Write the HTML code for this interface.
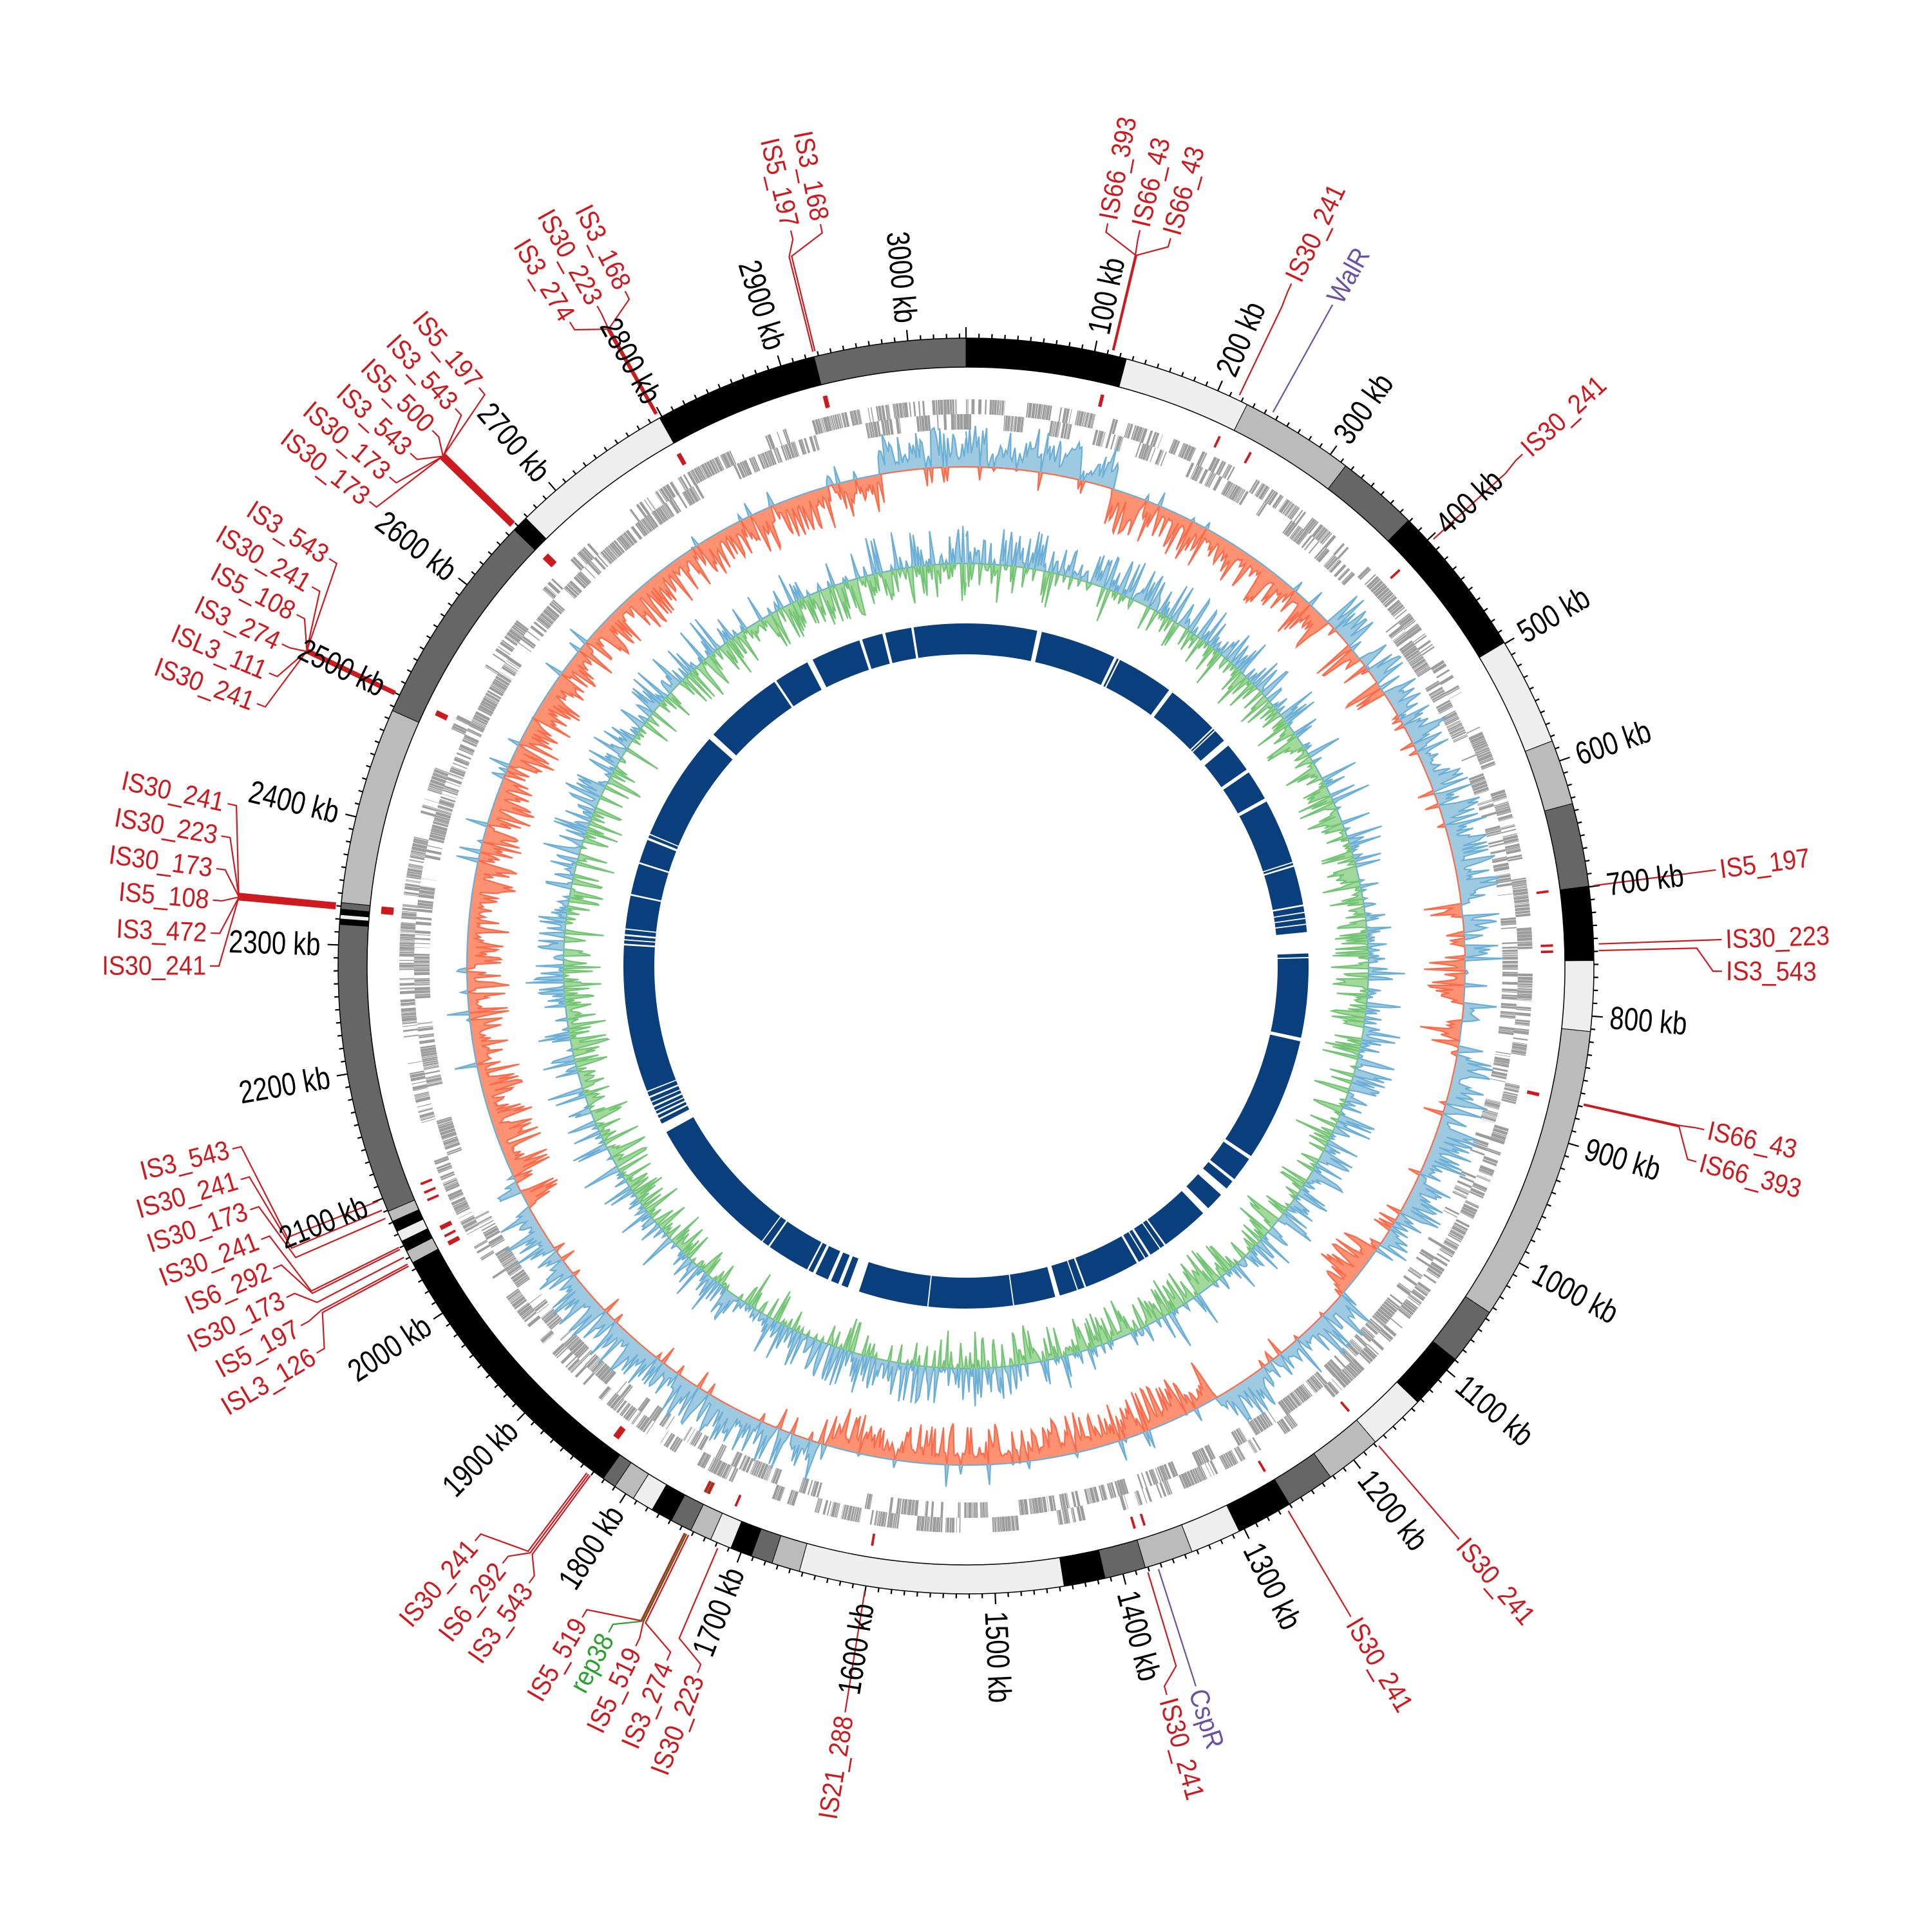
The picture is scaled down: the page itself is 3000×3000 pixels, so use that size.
<!DOCTYPE html>
<html><head><meta charset="utf-8">
<style>
html,body{margin:0;padding:0;background:#fff;}
svg{display:block;}
.kb{font-family:"Liberation Sans",sans-serif;font-size:50px;fill:#000;dominant-baseline:central;}
.is{font-family:"Liberation Sans",sans-serif;font-size:42px;fill:#cc1a1f;dominant-baseline:central;}
.pu{fill:#6a51a3;}
.gr{fill:#2ca02c;}
</style></head>
<body>
<svg id="s" xmlns="http://www.w3.org/2000/svg" width="3000" height="3000" viewBox="0 0 3000 3000">
<rect width="3000" height="3000" fill="#fff"/>
<g id="dyn"></g>
<g id="kbl">
<text class="kb" text-anchor="start" transform="rotate(-78.18 1500 1500) translate(2503 1500) scale(0.8 1)">100 kb</text>
<text class="kb" text-anchor="start" transform="rotate(-66.35 1500 1500) translate(2503 1500) scale(0.8 1)">200 kb</text>
<text class="kb" text-anchor="start" transform="rotate(-54.53 1500 1500) translate(2503 1500) scale(0.8 1)">300 kb</text>
<text class="kb" text-anchor="start" transform="rotate(-42.71 1500 1500) translate(2503 1500) scale(0.8 1)">400 kb</text>
<text class="kb" text-anchor="start" transform="rotate(-30.89 1500 1500) translate(2503 1500) scale(0.8 1)">500 kb</text>
<text class="kb" text-anchor="start" transform="rotate(-19.06 1500 1500) translate(2503 1500) scale(0.8 1)">600 kb</text>
<text class="kb" text-anchor="start" transform="rotate(-7.24 1500 1500) translate(2503 1500) scale(0.8 1)">700 kb</text>
<text class="kb" text-anchor="start" transform="rotate(4.58 1500 1500) translate(2503 1500) scale(0.8 1)">800 kb</text>
<text class="kb" text-anchor="start" transform="rotate(16.40 1500 1500) translate(2503 1500) scale(0.8 1)">900 kb</text>
<text class="kb" text-anchor="start" transform="rotate(28.23 1500 1500) translate(2503 1500) scale(0.8 1)">1000 kb</text>
<text class="kb" text-anchor="start" transform="rotate(40.05 1500 1500) translate(2503 1500) scale(0.8 1)">1100 kb</text>
<text class="kb" text-anchor="start" transform="rotate(51.87 1500 1500) translate(2503 1500) scale(0.8 1)">1200 kb</text>
<text class="kb" text-anchor="start" transform="rotate(63.69 1500 1500) translate(2503 1500) scale(0.8 1)">1300 kb</text>
<text class="kb" text-anchor="start" transform="rotate(75.52 1500 1500) translate(2503 1500) scale(0.8 1)">1400 kb</text>
<text class="kb" text-anchor="start" transform="rotate(87.34 1500 1500) translate(2503 1500) scale(0.8 1)">1500 kb</text>
<text class="kb" text-anchor="end" transform="rotate(279.16 1500 1500) translate(497 1500) scale(0.8 1)">1600 kb</text>
<text class="kb" text-anchor="end" transform="rotate(290.99 1500 1500) translate(497 1500) scale(0.8 1)">1700 kb</text>
<text class="kb" text-anchor="end" transform="rotate(302.81 1500 1500) translate(497 1500) scale(0.8 1)">1800 kb</text>
<text class="kb" text-anchor="end" transform="rotate(314.63 1500 1500) translate(497 1500) scale(0.8 1)">1900 kb</text>
<text class="kb" text-anchor="end" transform="rotate(326.45 1500 1500) translate(497 1500) scale(0.8 1)">2000 kb</text>
<text class="kb" text-anchor="end" transform="rotate(338.28 1500 1500) translate(497 1500) scale(0.8 1)">2100 kb</text>
<text class="kb" text-anchor="end" transform="rotate(350.10 1500 1500) translate(497 1500) scale(0.8 1)">2200 kb</text>
<text class="kb" text-anchor="end" transform="rotate(1.92 1500 1500) translate(497 1500) scale(0.8 1)">2300 kb</text>
<text class="kb" text-anchor="end" transform="rotate(13.74 1500 1500) translate(497 1500) scale(0.8 1)">2400 kb</text>
<text class="kb" text-anchor="end" transform="rotate(25.57 1500 1500) translate(497 1500) scale(0.8 1)">2500 kb</text>
<text class="kb" text-anchor="end" transform="rotate(37.39 1500 1500) translate(497 1500) scale(0.8 1)">2600 kb</text>
<text class="kb" text-anchor="end" transform="rotate(49.21 1500 1500) translate(497 1500) scale(0.8 1)">2700 kb</text>
<text class="kb" text-anchor="end" transform="rotate(61.03 1500 1500) translate(497 1500) scale(0.8 1)">2800 kb</text>
<text class="kb" text-anchor="end" transform="rotate(72.86 1500 1500) translate(497 1500) scale(0.8 1)">2900 kb</text>
<text class="kb" text-anchor="end" transform="rotate(84.68 1500 1500) translate(497 1500) scale(0.8 1)">3000 kb</text>
</g>
<g id="isl">
<text class="is" text-anchor="start" transform="rotate(-79.2 1500 1500) translate(2680 1500) scale(0.9 1)">IS66_393</text>
<text class="is" text-anchor="start" transform="rotate(-76.7 1500 1500) translate(2680 1500) scale(0.9 1)">IS66_43</text>
<text class="is" text-anchor="start" transform="rotate(-74.3 1500 1500) translate(2680 1500) scale(0.9 1)">IS66_43</text>
<text class="is" text-anchor="start" transform="rotate(-64.5 1500 1500) translate(2680 1500) scale(0.9 1)">IS30_241</text>
<text class="is pu" text-anchor="start" transform="rotate(-61 1500 1500) translate(2680 1500) scale(0.9 1)">WalR</text>
<text class="is" text-anchor="start" transform="rotate(-42.6 1500 1500) translate(2680 1500) scale(0.9 1)">IS30_241</text>
<text class="is" text-anchor="start" transform="rotate(-7.3 1500 1500) translate(2680 1500) scale(0.9 1)">IS5_197</text>
<text class="is" text-anchor="start" transform="rotate(-2 1500 1500) translate(2680 1500) scale(0.9 1)">IS30_223</text>
<text class="is" text-anchor="start" transform="rotate(0.4 1500 1500) translate(2680 1500) scale(0.9 1)">IS3_543</text>
<text class="is" text-anchor="start" transform="rotate(12.5 1500 1500) translate(2680 1500) scale(0.9 1)">IS66_43</text>
<text class="is" text-anchor="start" transform="rotate(15 1500 1500) translate(2680 1500) scale(0.9 1)">IS66_393</text>
<text class="is" text-anchor="start" transform="rotate(49.3 1500 1500) translate(2680 1500) scale(0.9 1)">IS30_241</text>
<text class="is" text-anchor="start" transform="rotate(59.4 1500 1500) translate(2680 1500) scale(0.9 1)">IS30_241</text>
<text class="is pu" text-anchor="start" transform="rotate(72.3 1500 1500) translate(2680 1500) scale(0.9 1)">CspR</text>
<text class="is" text-anchor="start" transform="rotate(74.6 1500 1500) translate(2680 1500) scale(0.9 1)">IS30_241</text>
<text class="is" text-anchor="end" transform="rotate(279.2 1500 1500) translate(320 1500) scale(0.9 1)">IS21_288</text>
<text class="is" text-anchor="end" transform="rotate(290.8 1500 1500) translate(320 1500) scale(0.9 1)">IS30_223</text>
<text class="is" text-anchor="end" transform="rotate(293.3 1500 1500) translate(320 1500) scale(0.9 1)">IS3_274</text>
<text class="is" text-anchor="end" transform="rotate(295.9 1500 1500) translate(320 1500) scale(0.9 1)">IS5_519</text>
<text class="is gr" text-anchor="end" transform="rotate(298.2 1500 1500) translate(320 1500) scale(0.9 1)">rep38</text>
<text class="is" text-anchor="end" transform="rotate(300.5 1500 1500) translate(320 1500) scale(0.9 1)">IS5_519</text>
<text class="is" text-anchor="end" transform="rotate(305.3 1500 1500) translate(320 1500) scale(0.9 1)">IS3_543</text>
<text class="is" text-anchor="end" transform="rotate(307.8 1500 1500) translate(320 1500) scale(0.9 1)">IS6_292</text>
<text class="is" text-anchor="end" transform="rotate(310.5 1500 1500) translate(320 1500) scale(0.9 1)">IS30_241</text>
<text class="is" text-anchor="end" transform="rotate(329.2 1500 1500) translate(320 1500) scale(0.9 1)">ISL3_126</text>
<text class="is" text-anchor="end" transform="rotate(331.6 1500 1500) translate(320 1500) scale(0.9 1)">IS5_197</text>
<text class="is" text-anchor="end" transform="rotate(334 1500 1500) translate(320 1500) scale(0.9 1)">IS30_173</text>
<text class="is" text-anchor="end" transform="rotate(336.4 1500 1500) translate(320 1500) scale(0.9 1)">IS6_292</text>
<text class="is" text-anchor="end" transform="rotate(338.8 1500 1500) translate(320 1500) scale(0.9 1)">IS30_241</text>
<text class="is" text-anchor="end" transform="rotate(341.2 1500 1500) translate(320 1500) scale(0.9 1)">IS30_173</text>
<text class="is" text-anchor="end" transform="rotate(343.6 1500 1500) translate(320 1500) scale(0.9 1)">IS30_241</text>
<text class="is" text-anchor="end" transform="rotate(346 1500 1500) translate(320 1500) scale(0.9 1)">IS3_543</text>
<text class="is" text-anchor="end" transform="rotate(0 1500 1500) translate(320 1500) scale(0.9 1)">IS30_241</text>
<text class="is" text-anchor="end" transform="rotate(2.5 1500 1500) translate(320 1500) scale(0.9 1)">IS3_472</text>
<text class="is" text-anchor="end" transform="rotate(5 1500 1500) translate(320 1500) scale(0.9 1)">IS5_108</text>
<text class="is" text-anchor="end" transform="rotate(7.4 1500 1500) translate(320 1500) scale(0.9 1)">IS30_173</text>
<text class="is" text-anchor="end" transform="rotate(9.9 1500 1500) translate(320 1500) scale(0.9 1)">IS30_223</text>
<text class="is" text-anchor="end" transform="rotate(12.4 1500 1500) translate(320 1500) scale(0.9 1)">IS30_241</text>
<text class="is" text-anchor="end" transform="rotate(20.3 1500 1500) translate(320 1500) scale(0.9 1)">IS30_241</text>
<text class="is" text-anchor="end" transform="rotate(22.8 1500 1500) translate(320 1500) scale(0.9 1)">ISL3_111</text>
<text class="is" text-anchor="end" transform="rotate(25.2 1500 1500) translate(320 1500) scale(0.9 1)">IS3_274</text>
<text class="is" text-anchor="end" transform="rotate(27.7 1500 1500) translate(320 1500) scale(0.9 1)">IS5_108</text>
<text class="is" text-anchor="end" transform="rotate(30.1 1500 1500) translate(320 1500) scale(0.9 1)">IS30_241</text>
<text class="is" text-anchor="end" transform="rotate(32.6 1500 1500) translate(320 1500) scale(0.9 1)">IS3_543</text>
<text class="is" text-anchor="end" transform="rotate(37.9 1500 1500) translate(320 1500) scale(0.9 1)">IS30_173</text>
<text class="is" text-anchor="end" transform="rotate(40.3 1500 1500) translate(320 1500) scale(0.9 1)">IS30_173</text>
<text class="is" text-anchor="end" transform="rotate(42.7 1500 1500) translate(320 1500) scale(0.9 1)">IS3_543</text>
<text class="is" text-anchor="end" transform="rotate(45.1 1500 1500) translate(320 1500) scale(0.9 1)">IS5_500</text>
<text class="is" text-anchor="end" transform="rotate(47.5 1500 1500) translate(320 1500) scale(0.9 1)">IS3_543</text>
<text class="is" text-anchor="end" transform="rotate(49.9 1500 1500) translate(320 1500) scale(0.9 1)">IS5_197</text>
<text class="is" text-anchor="end" transform="rotate(58.4 1500 1500) translate(320 1500) scale(0.9 1)">IS3_274</text>
<text class="is" text-anchor="end" transform="rotate(60.8 1500 1500) translate(320 1500) scale(0.9 1)">IS30_223</text>
<text class="is" text-anchor="end" transform="rotate(63.2 1500 1500) translate(320 1500) scale(0.9 1)">IS3_168</text>
<text class="is" text-anchor="end" transform="rotate(76.6 1500 1500) translate(320 1500) scale(0.9 1)">IS5_197</text>
<text class="is" text-anchor="end" transform="rotate(78.9 1500 1500) translate(320 1500) scale(0.9 1)">IS3_168</text>
</g>
</svg>
<script>
(function(){
var C=1500,G=3045;
function P(a,r){var t=(a-90)*Math.PI/180;return [(C+r*Math.cos(t)).toFixed(1),(C+r*Math.sin(t)).toFixed(1)];}
function arc(a1,a2,r1,r2){var p1=P(a1,r2),p2=P(a2,r2),p3=P(a2,r1),p4=P(a1,r1);var lg=(a2-a1)>180?1:0;
return 'M'+p1[0]+','+p1[1]+'A'+r2+','+r2+' 0 '+lg+' 1 '+p2[0]+','+p2[1]+'L'+p3[0]+','+p3[1]+'A'+r1+','+r1+' 0 '+lg+' 0 '+p4[0]+','+p4[1]+'Z';}
var seed=12345;function rnd(){seed=(seed*16807)%2147483647;return seed/2147483647;}
var o=[];
var K='#000',D='#666',L='#bbb',W='#eee';
var segs=[[0,14.8,K],[14.8,26.6,W],[26.6,37.2,L],[37.2,44.8,D],[44.8,59,K],[59,69,W],[69,75,L],[75,82.7,D],[82.7,89.5,K],[89.5,96,W],[96,123.5,L],[123.5,128.8,D],[128.8,134,K],[134,139.3,W],[139.3,144.5,L],[144.5,149,D],[149,154.2,K],[154.2,158.9,W],[158.9,163.4,L],[163.4,167.2,D],[167.2,171,K],[171,195.4,W],[195.4,198,L],[198,200,D],[200,202,K],[202,204,W],[204,206,L],[206,208,D],[208,210,K],[210,212,W],[212,214,L],[214,215.3,D],[215.3,241.8,K],[241.8,243,L],[243,244,K],[244,245,W],[245,246,K],[246,247,L],[247,273.8,D],[273.8,274.3,K],[274.3,274.7,W],[274.7,275.2,K],[275.2,275.8,D],[275.8,294,L],[294,314,D],[314,315.5,K],[315.5,330.8,W],[330.8,346,K],[346,360,D]];
segs.forEach(function(s){o.push('<path d="'+arc(s[0],s[1],930,975)+'" fill="'+s[2]+'" stroke="#000" stroke-width="1"/>');});
o.push('<circle cx="1500" cy="1500" r="975" fill="none" stroke="#000" stroke-width="1.5"/>');
o.push('<circle cx="1500" cy="1500" r="930" fill="none" stroke="#000" stroke-width="1.5"/>');
var tk='';
for(var kb=0;kb<G;kb+=10){var a=kb*360/G;var maj=(kb%100===0);var p1=P(a,975),p2=P(a,maj?992:982);tk+='M'+p1[0]+','+p1[1]+'L'+p2[0]+','+p2[1];}
o.push('<path d="'+tk+'" stroke="#000" stroke-width="2.2" fill="none"/>');
// genes - denser
var gp='';
function fillLane(a0,a1,rr,dens){var a=a0;while(a<a1){var len=0.04+rnd()*0.3;var b=Math.min(a1,a+len);
  if(rnd()<dens) gp+=arc(a,b,rr[0],rr[1]);
  a=b+(rnd()<0.85?0.02+rnd()*0.04:0.1+rnd()*0.3);}}
var a=0;
while(a<360){var run=0.3+rnd()*2.5;var end=Math.min(360,a+run);var lane=rnd()<0.5?0:1;
 var L1=lane===0?[857,880]:[833,857], L2=lane===0?[833,857]:[857,880];
 fillLane(a,end,L1,0.95);
 if(rnd()<0.35) fillLane(a,end,L2,0.5);
 a=end+(rnd()<0.7?0.02:0.1+rnd()*0.3);
}
o.push('<path d="'+gp+'" fill="#9c9c9c"/>');
var skewR=[[0,17,1],[17,45,-1],[45,57,0],[57,78,1],[78,100,0],[100,124,1],[124,131,-1],[131,150,1],[150,197,-1],[197,240,1],[240,246,0],[246,350,-1],[350,360,1]];
function sgn(a){for(var i=0;i<skewR.length;i++){var s=skewR[i];if(a>=s[0]&&a<s[1])return s[2];}return 1;}
function track(r0,step,fn,colP,colN,lineP,lineN){
 var pos=[],neg=[];
 for(var x=0;x<=360;x+=step){var v=fn(x);pos.push(Math.max(v,0));neg.push(Math.min(v,0));}
 function poly(arr){var d='',n=arr.length;for(var i=0;i<n;i++){var p=P(i*step,r0+arr[i]);d+=(i?'L':'M')+p[0]+','+p[1];}
  for(var i=n-1;i>=0;i--){var p=P(i*step,r0);d+='L'+p[0]+','+p[1];}return d+'Z';}
 function line(arr){var d='',n=arr.length;for(var i=0;i<n;i++){var p=P(i*step,r0+arr[i]);d+=(i?'L':'M')+p[0]+','+p[1];}return d;}
 o.push('<path d="'+poly(neg)+'" fill="'+colN+'"/>');
 o.push('<path d="'+poly(pos)+'" fill="'+colP+'"/>');
 o.push('<path d="'+line(neg)+'" fill="none" stroke="'+lineN+'" stroke-width="2.2"/>');
 o.push('<path d="'+line(pos)+'" fill="none" stroke="'+lineP+'" stroke-width="2.2"/>');
}
var mixS=1,mixNext=0;
track(775,0.2,function(x){var s=sgn(x);if(s===0){if(x>=mixNext){mixS=rnd()<0.5?1:-1;mixNext=x+0.5+rnd()*1.5;}s=mixS;}
 var v=s*(12+Math.pow(rnd(),2)*55);if(rnd()<0.07)v=-s*(rnd()*35);return v;},
 '#9ecae1','#fc9272','#6baed6','#fb6a4a');
track(625,0.2,function(x){var r=rnd();var m=Math.sin(x*0.07)*0.25;
 if(r<0.5+m)return 6+Math.pow(rnd(),2)*55;return -(6+Math.pow(rnd(),2)*55);},
 '#9ecae1','#a1d99b','#6baed6','#74c476');
o.push('<circle cx="1500" cy="1500" r="508" fill="none" stroke="#0a3f7e" stroke-width="48"/>');
var gaps=[[12.4,0.8],[25.9,0.5],[26.6,0.25],[36.7,0.7],[46.1,0.25],[46.6,0.2],[49.4,1.1],[55.3,0.6],[61,0.6],[72.4,0.2],[73,0.3],[79.8,0.3],[81,0.2],[82,0.2],[83,0.2],[86.1,3.6],[88.6,0.2],[102.4,0.6],[124,0.6],[128.7,0.5],[131.2,1.4],[135.6,1.2],[144.5,0.3],[145.5,0.2],[147.6,0.4],[148.5,0.2],[149.9,0.4],[159.6,0.3],[161,0.2],[164.5,0.8],[172,0.2],[186.4,0.2],[199.2,2.0],[201.6,0.6],[203.5,0.6],[206.3,0.5],[207.5,0.3],[215.1,0.3],[216.5,0.2],[241.8,1.6],[243.5,0.3],[244.3,0.3],[245,0.2],[245.8,0.3],[246.6,0.2],[247.5,0.3],[248.5,0.2],[273.6,0.3],[274.4,0.2],[275.2,0.3],[276.2,0.2],[282,0.3],[287.5,0.3],[291.8,0.4],[292.6,0.2],[312,1.0],[326.2,0.4],[332.9,1.0],[342.1,0.5],[346.1,0.5],[351,0.4]];
gaps.forEach(function(g){o.push('<path d="'+arc(g[0]-g[1]/2,g[0]+g[1]/2,482,534)+'" fill="#fff"/>');});
var R='#cc1a1f',PU='#6a51a3',GR='#2ca02c';
var ld=[[10.8,13.4,R],[13.3,13.4,R],[15.7,13.5,R],[25.5,25.6,R],[29,29,PU],[47.4,47.6,R],[82.7,82.7,R],[88,88,R],[90.4,88.6,R],[102.5,102.6,R],[105,102.7,R],[139.3,139.3,R],[149.4,149.4,R],[162.3,162.3,PU],[164.6,163.3,R],
[189.2,189.2,R],[200.8,203.1,R],[203.3,206,R],[205.9,206.2,R],[208.2,206.3,GR],[210.5,206.4,R],[215.3,216.4,R],[217.8,216.6,R],[220.5,216.8,R],
[239.2,241.7,R],[241.6,241.9,R],[244,242.6,R],[246.4,243.4,R],[248.8,243.6,R],[251.2,246.5,R],[253.6,247.3,R],[256,248.2,R],
[270,275.2,R],[272.5,275.3,R],[275,275.4,R],[277.4,275.5,R],[279.9,275.6,R],[282.4,275.7,R],
[290.3,295.4,R],[292.8,295.5,R],[295.2,295.5,R],[297.7,295.6,R],[300.1,295.6,R],[302.6,295.7,R],
[307.9,314,R],[310.3,314.1,R],[312.7,314.2,R],[315.1,314.3,R],[317.5,314.4,R],[319.9,314.5,R],
[328.4,330.6,R],[330.8,330.7,R],[333.2,330.8,R],[346.6,346,R],[348.9,346.2,R]];
ld.forEach(function(l){var aL=l[0],aM=l[1];var p1=P(aM,983),p2=P(aM,1135),p3=P(aL,1160),p4=P(aL,1174);
 o.push('<path d="M'+p1[0]+','+p1[1]+'L'+p2[0]+','+p2[1]+'L'+p3[0]+','+p3[1]+'L'+p4[0]+','+p4[1]+'" fill="none" stroke="'+l[2]+'" stroke-width="2.2"/>');
 o.push('<path d="'+arc(aM-0.12,aM+0.12,893,912)+'" fill="'+(l[2]===GR?GR:'#cc1a1f')+'"/>');
});
document.getElementById('dyn').innerHTML=o.join('');
})();
</script>
</body></html>
